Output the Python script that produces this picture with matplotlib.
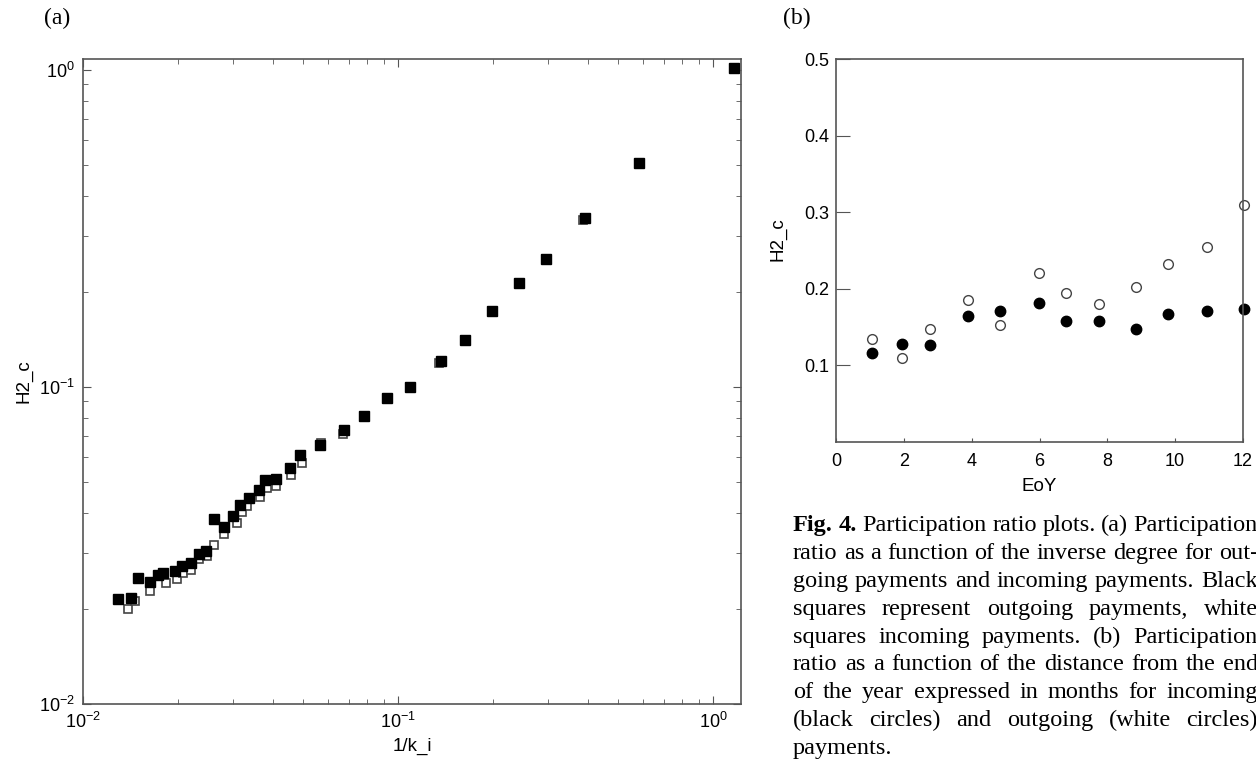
import matplotlib
matplotlib.use('Agg')
import matplotlib.pyplot as plt

plt.rcParams['font.family'] = ['Liberation Sans', 'DejaVu Sans']
plt.rcParams['mathtext.fontset'] = 'custom'
plt.rcParams['mathtext.rm'] = 'Liberation Sans'
plt.rcParams['mathtext.it'] = 'Liberation Sans:italic'

# (a) participation ratio vs inverse degree
out_x = [0.01294, 0.01420, 0.01498, 0.01632, 0.01728, 0.01801, 0.01956, 0.02069,
         0.02202, 0.02329, 0.02466, 0.02611, 0.02810, 0.03001, 0.03158, 0.03357,
         0.03613, 0.03791, 0.04090, 0.04541, 0.04902, 0.05654, 0.06753, 0.07781,
         0.09247, 0.1092, 0.1367, 0.1636, 0.199, 0.2416, 0.2944, 0.3914, 0.5834, 1.166]
out_y = [0.02139, 0.02154, 0.02497, 0.02417, 0.02552, 0.02599, 0.02622, 0.02719,
         0.02775, 0.02977, 0.03038, 0.03825, 0.03625, 0.03918, 0.04244, 0.04476,
         0.04743, 0.05101, 0.05137, 0.05566, 0.06104, 0.06540, 0.07334, 0.08101,
         0.09234, 0.0998, 0.1211, 0.1407, 0.174, 0.2124, 0.2534, 0.3405, 0.5078, 1.015]
in_x = [0.01392, 0.01463, 0.01632, 0.01831, 0.01991, 0.02074, 0.02205, 0.02331,
        0.02470, 0.02609, 0.02810, 0.03077, 0.03199, 0.03323, 0.03647, 0.03830,
        0.04090, 0.04575, 0.04945, 0.05695, 0.06690, 0.07781, 0.09247, 0.1092,
        0.1353, 0.1636, 0.199, 0.2416, 0.2944, 0.3858, 0.5834, 1.166]
in_y = [0.01990, 0.02117, 0.02272, 0.02404, 0.02473, 0.02584, 0.02653, 0.02861,
        0.02937, 0.03174, 0.03430, 0.03715, 0.04034, 0.04213, 0.04508, 0.04812,
        0.04873, 0.05278, 0.05745, 0.06674, 0.07108, 0.08101, 0.09234, 0.0998,
        0.1188, 0.1407, 0.174, 0.2124, 0.2534, 0.3363, 0.5078, 1.015]

# (b) participation ratio vs months from end of year
eoy = [1.06, 1.96, 2.78, 3.9, 4.84, 5.99, 6.78, 7.74, 8.85, 9.79, 10.93, 12.03]
h_incoming = [0.116, 0.128, 0.127, 0.164, 0.171, 0.182, 0.158, 0.158, 0.148, 0.167, 0.171, 0.174]
h_outgoing = [0.134, 0.110, 0.148, 0.186, 0.153, 0.220, 0.195, 0.180, 0.202, 0.232, 0.254, 0.310]

caption = [
    'Fig. 4. Participation ratio plots. (a) Participation',
    'ratio as a function of the inverse degree for out-',
    'going payments and incoming payments. Black',
    'squares represent outgoing payments, white',
    'squares incoming payments. (b) Participation',
    'ratio as a function of the distance from the end',
    'of the year expressed in months for incoming',
    '(black circles) and outgoing (white circles)',
    'payments.',
]

W, H = 1256, 760
fig = plt.figure(figsize=(W / 100, H / 100), dpi=100)


def px_axes(x0, y0, x1, y1):
    return fig.add_axes([x0 / W, 1 - y1 / H, (x1 - x0) / W, (y1 - y0) / H])


spine_col = '#555555'

# panel (a)
ax = px_axes(83, 59, 741, 704)
ax.plot(in_x, in_y, 's', ms=6, mfc='white', mec='#444444', mew=1.2, ls='none')
ax.plot(out_x, out_y, 's', ms=6.5, mfc='black', mec='black', ls='none')
ax.set_xscale('log')
ax.set_yscale('log')
ax.set_xlim(0.01, 1.227)
ax.set_ylim(0.01, 1.083)
ax.tick_params(which='both', direction='in', top=True, right=True,
               labelsize=13, color=spine_col, pad=6)
ax.tick_params(which='major', length=6)
ax.tick_params(which='minor', length=3.5)
ax.set_xlabel('1/k_i', fontsize=13.5, labelpad=4)
ax.set_ylabel('H2_c', fontsize=13.5)
ax.yaxis.set_label_coords(-0.076, 0.5)
for s in ax.spines.values():
    s.set_color(spine_col)
    s.set_linewidth(1.2)

# panel (b)
bx = px_axes(836, 59, 1243, 442)
bx.plot(eoy, h_outgoing, 'o', ms=7, mfc='white', mec='#444444', mew=1.0, ls='none', clip_on=False)
bx.plot(eoy, h_incoming, 'o', ms=7.5, mfc='black', mec='black', ls='none', clip_on=False)
bx.set_xlim(0, 12)
bx.set_ylim(0, 0.5)
bx.set_xticks(range(0, 13, 2))
bx.set_yticks([0.1, 0.2, 0.3, 0.4, 0.5])
bx.tick_params(axis='y', direction='in', length=10, labelsize=13, color=spine_col, pad=5)
bx.tick_params(axis='x', direction='in', length=3, labelsize=13, color=spine_col, pad=8)
bx.set_xlabel('EoY', fontsize=13.5, labelpad=6)
bx.set_ylabel('H2_c', fontsize=13.5)
bx.yaxis.set_label_coords(-0.122, 0.53)
for s in bx.spines.values():
    s.set_color(spine_col)
    s.set_linewidth(1.2)

serif = ['Liberation Serif', 'DejaVu Serif']
fig.text(57 / W, 1 - 18 / H, '(a)', fontsize=17, family=serif, ha='center', va='center')
fig.text(797 / W, 1 - 18 / H, '(b)', fontsize=17, family=serif, ha='center', va='center')

# justified caption, word by word
renderer = fig.canvas.get_renderer()
x_left, x_right = 793, 1258
base0, step = 531, 27.9
for i, line in enumerate(caption):
    words = line.split(' ')
    texts = []
    for j, w in enumerate(words):
        weight = 'bold' if (i == 0 and j < 2) else 'normal'
        t = fig.text(0, 1 - (base0 + i * step) / H, w, fontsize=17.5, family=serif,
                     weight=weight, va='baseline', ha='left')
        texts.append(t)
    widths = [t.get_window_extent(renderer).width for t in texts]
    if i < len(caption) - 1 and len(words) > 1:
        gap = (x_right - x_left - sum(widths)) / (len(words) - 1)
    else:
        gap = 6
    x = x_left
    for t, wd in zip(texts, widths):
        t.set_x(x / W)
        x += wd + gap

fig.savefig('out.png', dpi=100)
